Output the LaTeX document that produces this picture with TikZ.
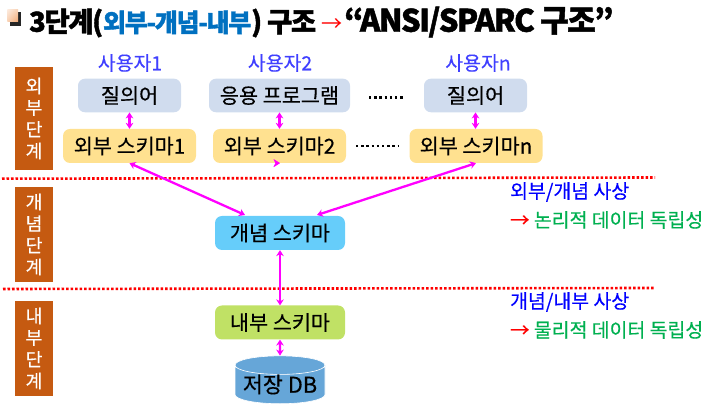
\documentclass[tikz,border=0pt]{standalone}
\usepackage{fontspec}
\setmainfont[FakeBold=0.3]{Noto Sans CJK KR}
\newfontfamily\titlefont[LetterSpace=-5,BoldFeatures={FakeBold=1.5}]{Noto Sans CJK KR}
\usetikzlibrary{shapes.geometric,arrows.meta,shadings}
\definecolor{barbrown}{HTML}{C55A11}
\definecolor{queryblue}{HTML}{D0DCEE}
\definecolor{extyellow}{HTML}{FFE190}
\definecolor{conceptblue}{HTML}{66CDFA}
\definecolor{internalgreen}{HTML}{C0E165}
\definecolor{dbblue}{HTML}{66A6D8}
\definecolor{userblue}{HTML}{4040FF}
\definecolor{mapgreen}{HTML}{00B050}
\definecolor{titleblue}{HTML}{0070C0}
\definecolor{mappink}{HTML}{FF00FF}
\definecolor{purered}{HTML}{FF0000}
\definecolor{pureblue}{HTML}{0000FF}
\definecolor{bulletlight}{HTML}{FCE9DC}
\definecolor{bulletmid}{HTML}{F8CFB0}
\definecolor{bulletdark}{HTML}{F2A873}
\tikzset{
  levelbar/.style={fill=barbrown, text=white, align=center, inner sep=0pt, minimum width=1.9cm, font=\fontsize{26}{30.8}\selectfont},
  querybox/.style={fill=queryblue, rounded corners=0.35cm, inner sep=0pt, minimum height=1.68cm, font=\fontsize{29.5}{32}\selectfont},
  extbox/.style={fill=extyellow, rounded corners=0.35cm, inner sep=0pt, minimum width=6.65cm, minimum height=1.7cm, font=\fontsize{29.5}{32}\selectfont},
  userlabel/.style={text=userblue, inner sep=0pt, font=\fontsize{27.6}{30}\selectfont},
  maplabel/.style={anchor=west, inner sep=0pt, font=\fontsize{27.6}{30}\selectfont},
  mapping/.style={draw=mappink, line width=0.115cm, {Stealth[length=0.3cm,width=0.38cm]}-{Stealth[length=0.3cm,width=0.38cm]}},
  levelline/.style={draw=purered, line width=0.13cm, dash pattern=on 0.13cm off 0.095cm},
  dotrow/.style={draw=black, line width=0.12cm, dash pattern=on 0.12cm off 0.14cm},
}
\begin{document}
\begin{tikzpicture}
\useasboundingbox (0,0) rectangle (35.35,20.3);
% title
\fill[black!85] (0.5,19.0) rectangle (1.05,19.7);
\shade[upper left=bulletlight, lower right=bulletdark, upper right=bulletmid, lower left=bulletmid] (0.37,19.2) rectangle (0.9,19.8);
\node[anchor=west, inner sep=0pt] (title) at (1.45,19.2) {\fontsize{39}{42}\titlefont\bfseries 3단계({\fontsize{35.5}{36}\selectfont\color{titleblue}외부-개념-내부}) 구조 {\color{purered}\mdseries\fontsize{30}{36}\selectfont →}\kern-0.15cm\ {\fontsize{44}{46}\selectfont “ANSI/SPARC 구조”}};
% levels
\node[levelbar, minimum height=5.15cm] (extlevel) at (1.7,14.375) {외\\부\\단\\계};
\node[levelbar, minimum height=4.75cm] (conlevel) at (1.7,8.575) {개\\념\\단\\계};
\node[levelbar, minimum height=4.75cm] (intlevel) at (1.7,2.875) {내\\부\\단\\계};
% users
\node[userlabel] (user1) at (6.5,17.15) {사용자1};
\node[userlabel] (user2) at (14.0,17.15) {사용자2};
\node[userlabel] (usern) at (23.9,17.15) {사용자n};
\node[querybox, minimum width=5.15cm] (query1) at (6.475,15.525) {질의어};
\node[querybox, minimum width=7.05cm] (app2) at (13.975,15.525) {응용 프로그램};
\node[querybox, minimum width=5.15cm] (queryn) at (23.775,15.525) {질의어};
\node[extbox] (ext1) at (6.475,13.0) {외부 스키마1};
\node[extbox] (ext2) at (13.975,13.0) {외부 스키마2};
\node[extbox] (extn) at (23.8,13.0) {외부 스키마n};
% schemas
\node[extbox, fill=conceptblue, minimum width=6.5cm] (concept) at (14.0,8.65) {개념 스키마};
\node[extbox, fill=internalgreen, minimum width=6.5cm] (internal) at (14.0,4.175) {내부 스키마};
\node[cylinder, shape border rotate=90, aspect=0.25, draw=white, line width=0.03cm, inner sep=0pt,
  cylinder uses custom fill, cylinder body fill=dbblue, cylinder end fill=dbblue,
  minimum width=4.5cm, minimum height=2.05cm, font=\fontsize{31}{32}\selectfont] (db) at (14.0,1.07) {저장 DB};
% dots
\coordinate (dotsa) at (18.45,15.42);
\coordinate (dotsb) at (20.25,15.42);
\coordinate (dotsc) at (17.8,13.0);
\coordinate (dotsd) at (19.95,13.0);
\draw[dotrow] (dotsa) -- (dotsb);
\draw[dotrow] (dotsc) -- (dotsd);
% level lines
\coordinate (linea) at (0.1,11.365);
\coordinate (lineb) at (32.75,11.425);
\coordinate (linec) at (0.15,5.85);
\coordinate (lined) at (32.75,5.9);
\draw[levelline] (linea) -- (lineb);
\draw[levelline] (linec) -- (lined);
% mappings
\coordinate (concepta) at (12.25,9.55);
\coordinate (conceptb) at (15.85,9.55);
\draw[mapping] (query1.south) -- (ext1.north);
\draw[mapping] (app2.south) -- (ext2.north);
\draw[mapping] (queryn.south) -- (queryn.south |- extn.north);
\draw[mapping] (ext1.south) -- (concepta);
\draw[mapping] (ext2.south) -- (ext2.south -| concept.north);
\draw[mapping] (extn.south) -- (conceptb);
\draw[mapping] (concept.south) -- (internal.north);
\draw[mapping] (internal.south) -- (db.north);
% right labels
\node[maplabel, text=pureblue] (mapa) at (25.5,10.7) {외부/개념 사상};
\node[maplabel, text=mapgreen] (mapb) at (25.5,9.3) {{\color{purered}→} 논리적 데이터 독립성};
\node[maplabel, text=pureblue] (mapc) at (25.5,5.2) {개념/내부 사상};
\node[maplabel, text=mapgreen] (mapd) at (25.5,3.8) {{\color{purered}→} 물리적 데이터 독립성};
\end{tikzpicture}
\end{document}
